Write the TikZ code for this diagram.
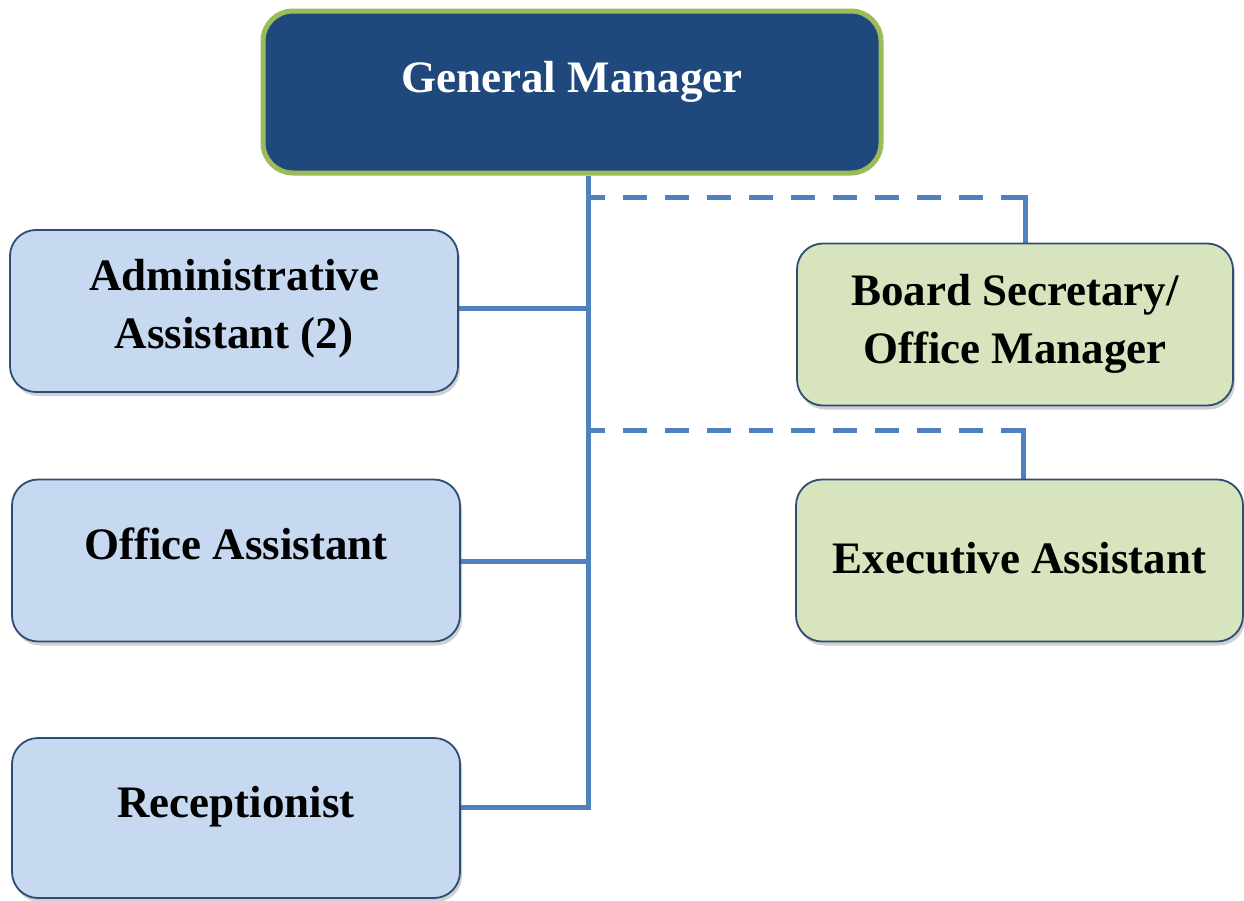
\documentclass[tikz,border=0pt]{standalone}
\usepackage{fontspec}
\setmainfont{Liberation Serif}
\usetikzlibrary{shadows,backgrounds}
\definecolor{gmfill}{HTML}{1F497D}
\definecolor{gmline}{HTML}{9BBB59}
\definecolor{bluefill}{HTML}{C6D9F1}
\definecolor{greenfill}{HTML}{D7E4BD}
\definecolor{boxline}{HTML}{2C4D75}
\definecolor{conn}{HTML}{4F81BD}
\begin{document}
\begin{tikzpicture}[x=1pt,y=-1pt,
  shadowed/.style={drop shadow={shadow xshift=2pt,shadow yshift=-4pt,opacity=0.3,fill=black!60}},
  box/.style={shadowed,draw=boxline,line width=1.8pt,rounded corners=26pt,inner sep=0pt,minimum width=448pt,minimum height=162pt},
  bluebox/.style={box,fill=bluefill},
  greenbox/.style={box,fill=greenfill},
  gmbox/.style={draw=gmline,fill=gmfill,line width=5pt,rounded corners=30pt,inner sep=0pt,minimum width=618pt,minimum height=162pt},
  lbl/.style={font=\fontsize{45}{58}\selectfont\bfseries,align=center,inner sep=0pt},
  lbl1/.style={lbl,text height=0.7em,text depth=0.25em},
  connline/.style={draw=conn,line width=5pt},
  dashline/.style={connline,dash pattern=on 24pt off 18pt,dash phase=7pt}]
\useasboundingbox (0,0) rectangle (1244,900);

\node[gmbox] (gm) at (572,92) {};
\node[lbl1,text=white] (gmt) at (572,90) {General Manager};

\node[bluebox] (adm) at (234,311) {};
\node[lbl] (admt) at (234,309) {Administrative\\Assistant (2)};

\node[bluebox] (off) at (236,560.5) {};
\node[lbl1] (offt) at (236,557) {Office Assistant};

\node[bluebox,minimum height=160pt] (rec) at (236,818) {};
\node[lbl1] (rect) at (236,815) {Receptionist};

\node[greenbox,minimum width=436pt] (bs) at (1015,324.5) {};
\node[lbl] (bst) at (1015,324) {Board Secretary/\\Office Manager};

\node[greenbox,minimum width=447pt] (ex) at (1019.5,560.5) {};
\node[lbl1] (ext) at (1019.5,571) {Executive Assistant};

\coordinate (j1) at (588,197);
\coordinate (j2) at (588,430);
\coordinate (j3) at (588,308);
\coordinate (j4) at (588,561);
\coordinate (j5) at (588,807);
\coordinate (c1) at (1025,197);
\coordinate (c2) at (1023,430);

\begin{scope}[on background layer]
\draw[connline] (gm.south -| j1) -- (j5) -- (j5 -| rec.east);
\draw[connline] (j3) -- (j3 -| adm.east);
\draw[connline] (j4) -- (j4 -| off.east);
\draw[dashline] (j1) -- (c1);
\draw[connline,line cap=rect] (c1) -- (c1 |- bs.north);
\draw[dashline] (j2) -- (c2);
\draw[connline,line cap=rect] (c2) -- (c2 |- ex.north);
\end{scope}
\end{tikzpicture}
\end{document}
